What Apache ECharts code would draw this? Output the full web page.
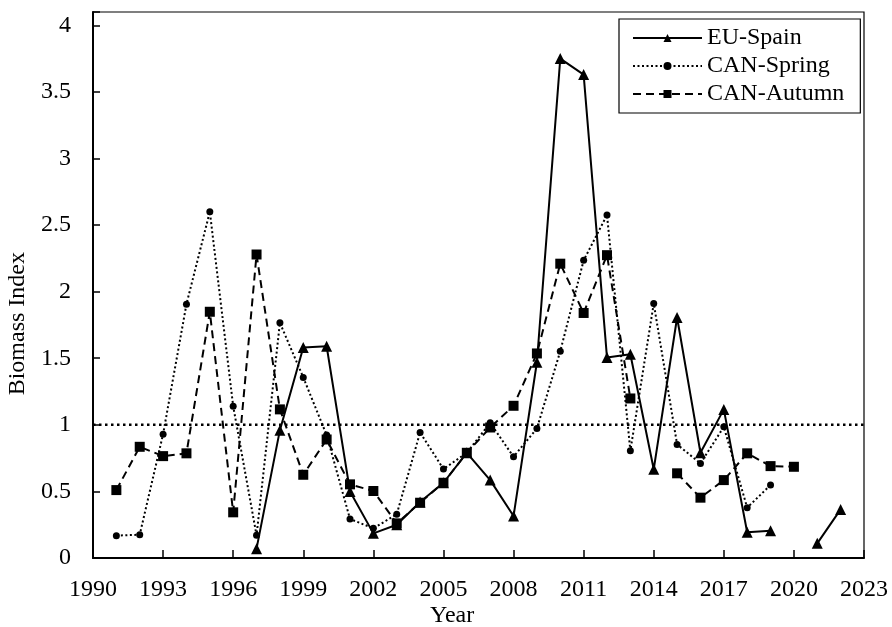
<!DOCTYPE html>
<html>
<head>
<meta charset="utf-8">
<script src="https://cdn.jsdelivr.net/npm/echarts@6/dist/echarts.min.js"></script>
<style>html,body{margin:0;padding:0;background:#fff}#c{width:892px;height:627px}</style>
</head>
<body>
<div id="c"></div>
<script>
const years = [1991,1992,1993,1994,1995,1996,1997,1998,1999,2000,2001,2002,2003,2004,2005,2006,2007,2008,2009,2010,2011,2012,2013,2014,2015,2016,2017,2018,2019,2020,2021,2022];
const euSpain = [null,null,null,null,null,null,0.07,0.96,1.58,1.59,0.50,0.185,0.25,0.42,0.565,0.79,0.585,0.315,1.47,3.75,3.63,1.505,1.53,0.666,1.806,0.79,1.116,0.193,0.205,null,0.11,0.365];
const canSpring = [0.168,0.175,0.93,1.906,2.60,1.14,0.17,1.766,1.356,0.923,0.293,0.223,0.328,0.943,0.668,0.79,1.015,0.76,0.973,1.553,2.235,2.576,0.805,1.911,0.853,0.71,0.985,0.378,0.548,null,null,null];
const canAutumn = [0.51,0.835,0.765,0.786,1.849,0.343,2.279,1.116,0.625,0.89,0.553,0.503,0.26,0.415,0.565,0.79,0.98,1.143,1.536,2.21,1.84,2.274,1.198,null,0.636,0.453,0.585,0.786,0.69,0.685,null,null];
const refLine = [[1990,1],[2023,1]];
const seriesNames = ['EU-Spain','CAN-Spring','CAN-Autumn'];
const xTitle = 'Year';
const yTitle = 'Biomass Index';

const font = 'Liberation Serif';
const pair = arr => years.map((y,i)=>[y, arr[i]]);
const cross = 'path://M0,0L10,10M10,0L0,10';

const chart = echarts.init(document.getElementById('c'), null, {renderer:'canvas'});
chart.setOption({
  animation:false,
  backgroundColor:'#fff',
  textStyle:{fontFamily:font, color:'#000'},
  grid:{left:93, right:28, top:12, bottom:69, show:true, borderColor:'#000', borderWidth:1.2, containLabel:false},
  xAxis:{type:'value', min:1990, max:2023, interval:3,
    axisLine:{show:true, onZero:false, lineStyle:{color:'#000', width:2}},
    axisTick:{show:true, inside:true, length:8, lineStyle:{color:'#000', width:1.5}},
    axisLabel:{fontFamily:font, fontSize:24, color:'#000', margin:20, formatter:v=>String(v)},
    splitLine:{show:false}},
  yAxis:{type:'value', min:0, max:4.1, interval:0.5,
    axisLine:{show:true, onZero:false, lineStyle:{color:'#000', width:2}},
    axisTick:{show:true, inside:true, length:7, lineStyle:{color:'#000', width:1.5}},
    axisLabel:{fontFamily:font, fontSize:24, color:'#000', margin:22,
      formatter:v=>(Math.abs(v*2-Math.round(v*2))<1e-6 ? String(+v.toFixed(1)) : '')},
    splitLine:{show:false}},
  legend:{orient:'vertical', left:619, top:19, data:seriesNames,
    borderColor:'#000', borderWidth:1.2, padding:[7,16,7,13], itemGap:4,
    itemWidth:69, itemHeight:10,
    textStyle:{fontFamily:font, fontSize:24, color:'#000', lineHeight:24}},
  graphic:[
    {type:'text', left:430, top:604, style:{text:xTitle, font:'24px "Liberation Serif"', fill:'#000'}},
    {type:'text', rotation:Math.PI/2, left:6, top:252, style:{text:yTitle, font:'24px "Liberation Serif"', fill:'#000'}}
  ],
  series:[
    {name:'ref', type:'line', data:refLine, symbol:cross, symbolSize:12, clip:false, silent:true,
      itemStyle:{color:'#c9c3ef'}, lineStyle:{color:'#000', width:2.5, type:[2.5,3.5]}, z:1},
    {name:seriesNames[0], type:'line', data:pair(euSpain), symbol:'triangle', symbolSize:11, connectNulls:false,
      itemStyle:{color:'#000'}, lineStyle:{color:'#000', width:2, type:'solid'}, z:4},
    {name:seriesNames[1], type:'line', data:pair(canSpring), symbol:'circle', symbolSize:7, connectNulls:false,
      itemStyle:{color:'#000'}, lineStyle:{color:'#000', width:2, type:[2,2.5]}, z:3},
    {name:seriesNames[2], type:'line', data:pair(canAutumn), symbol:'rect', symbolSize:10, connectNulls:false,
      itemStyle:{color:'#000'}, lineStyle:{color:'#000', width:2, type:[8,5]}, z:3}
  ]
});
</script>
</body>
</html>
